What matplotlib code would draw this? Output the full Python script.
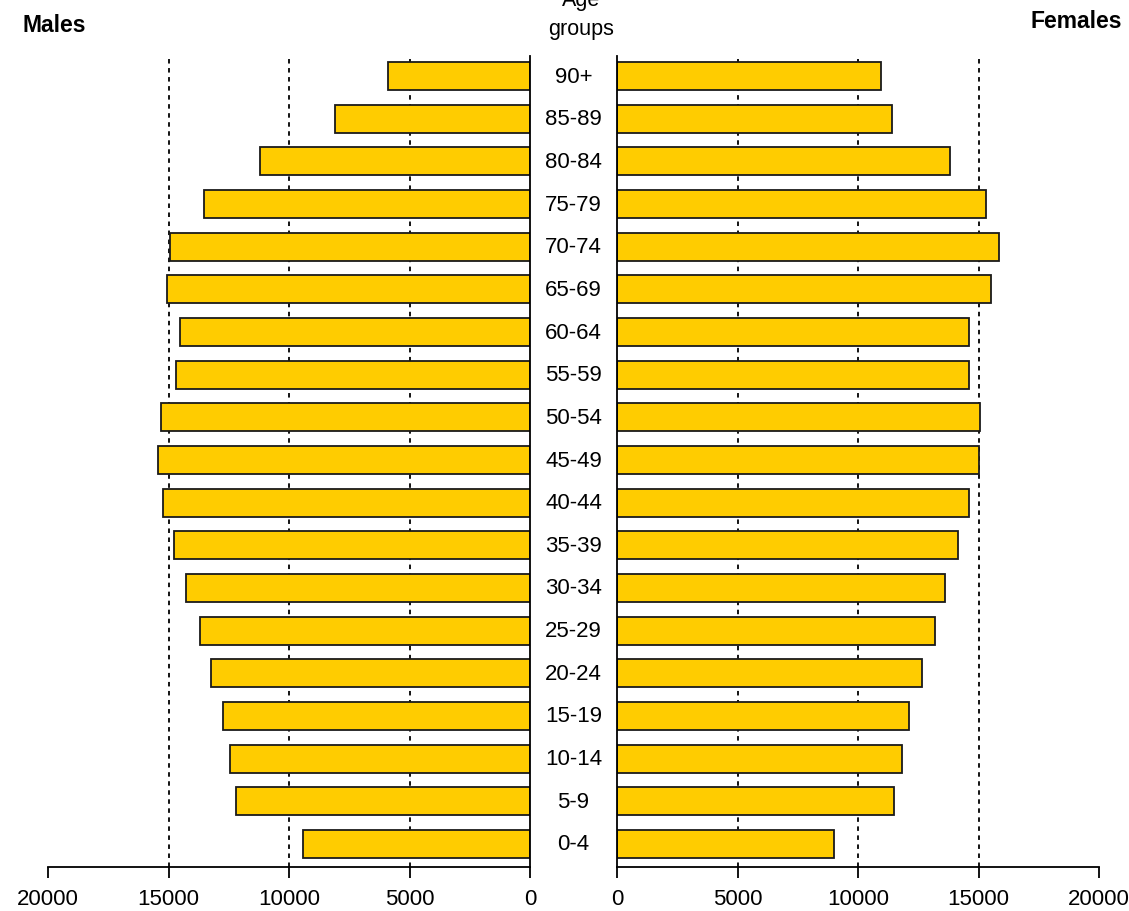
import numpy as np
import matplotlib.pyplot as plt
from matplotlib.transforms import blended_transform_factory

# --- data
age_groups = ["0-4", "5-9", "10-14", "15-19", "20-24", "25-29", "30-34", "35-39",
              "40-44", "45-49", "50-54", "55-59", "60-64", "65-69", "70-74",
              "75-79", "80-84", "85-89", "90+"]
males = [9420, 12200, 12450, 12740, 13240, 13690, 14270, 14770, 15230, 15440,
         15310, 14690, 14520, 15060, 14940, 13530, 11200, 8090, 5890]
females = [9000, 11490, 11830, 12120, 12660, 13200, 13610, 14150, 14610, 15020,
           15060, 14610, 14610, 15520, 15850, 15310, 13820, 11410, 10950]
x_ticks = [0, 5000, 10000, 15000, 20000]
grid_vals = [5000, 10000, 15000]

plt.rcParams['font.family'] = ['Liberation Sans', 'DejaVu Sans']

W, H = 1129, 912
fig = plt.figure(figsize=(W / 100, H / 100), dpi=100)

bar_color = "#FFCC00"
y = np.arange(len(age_groups))

# axes placed in pixel coordinates of the reference
bottom_px, top_px = 868, 57
ax_l = fig.add_axes([48 / W, (H - bottom_px) / H, 482 / W, (bottom_px - top_px) / H])
ax_r = fig.add_axes([617 / W, (H - bottom_px) / H, 482 / W, (bottom_px - top_px) / H])

for ax, vals in [(ax_l, males), (ax_r, females)]:
    for g in grid_vals:
        ax.axvline(g, color="black", linestyle=(0, (2.5, 2.5)), linewidth=1.3, zorder=1)
    ax.barh(y, vals, height=0.66, color=bar_color, edgecolor="#1a1a1a",
            linewidth=1.3, zorder=2)
    ax.set_xlim(0, 20000)
    ax.set_ylim(-0.54, 18.47)
    ax.set_xticks(x_ticks)
    ax.set_xticklabels([str(t) for t in x_ticks])
    ax.tick_params(axis="x", direction="out", length=8, width=1.3, labelsize=16, pad=7)
    ax.set_yticks([])
    ax.spines["top"].set_visible(False)
    for s in ax.spines.values():
        s.set_linewidth(1.3)

ax_l.invert_xaxis()
ax_l.spines["left"].set_visible(False)
ax_r.spines["right"].set_visible(False)

# age group labels centred between the two panels
tr = blended_transform_factory(fig.transFigure, ax_r.transData)
for yi, lab in zip(y, age_groups):
    fig.text(573.5 / W, yi, lab, transform=tr, ha="center", va="center", fontsize=16)

fig.text(581 / W, 1 - 15 / H, "Age\ngroups", ha="center", va="center",
         fontsize=15.5, linespacing=1.55)
fig.text(22 / W, 1 - 25 / H, "Males", ha="left", va="center",
         fontsize=16.5, fontweight="bold")
fig.text(1122 / W, 1 - 22 / H, "Females", ha="right", va="center",
         fontsize=16.5, fontweight="bold")

fig.savefig("out.png", dpi=100)
